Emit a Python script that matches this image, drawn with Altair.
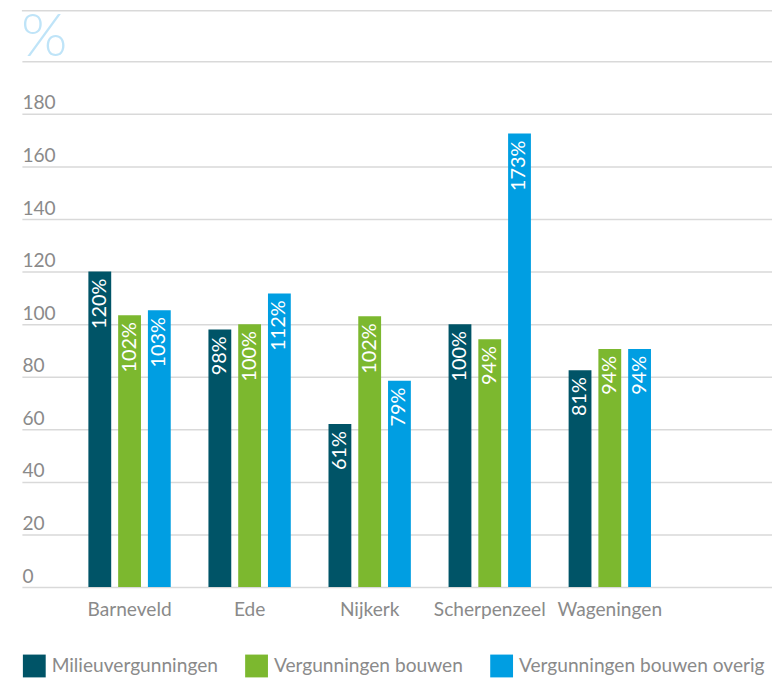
import altair as alt
import pandas as pd

gemeenten = ["Barneveld", "Ede", "Nijkerk", "Scherpenzeel", "Wageningen"]
series = ["Milieuvergunningen", "Vergunningen bouwen", "Vergunningen bouwen overig"]
colors = ["#005467", "#7cb82f", "#009ee2"]

# bar heights as drawn (percent)
milieu = [120, 98, 62, 100, 82.5]
bouwen = [103.4, 100, 103, 94.3, 90.6]
overig = [105.3, 111.7, 78.5, 172.5, 90.6]
# printed labels
milieu_lbl = ["120%", "98%", "61%", "100%", "81%"]
bouwen_lbl = ["102%", "100%", "102%", "94%", "94%"]
overig_lbl = ["103%", "112%", "79%", "173%", "94%"]

y_ticks = [0, 20, 40, 60, 80, 100, 120, 140, 160, 180, 200]

rows = []
for s, vals, lbls in zip(series, [milieu, bouwen, overig], [milieu_lbl, bouwen_lbl, overig_lbl]):
    for g, v, l in zip(gemeenten, vals, lbls):
        rows.append({"gemeente": g, "reeks": s, "waarde": v, "label": l})
df = pd.DataFrame(rows)

W, H = 756, 581
FONT = "Lato"
GRAY = "#8a8a8a"
FS = 19.3

x_enc = alt.X("gemeente:N", sort=gemeenten,
              scale=alt.Scale(paddingInner=0.2562, paddingOuter=0.752, align=0.349, round=False),
              axis=alt.Axis(title=None, ticks=False, domain=False, labelAngle=0,
                            labelFont=FONT, labelFontSize=FS, labelColor=GRAY,
                            labelPadding=14))
xo_enc = alt.XOffset("reeks:N", sort=series,
                     scale=alt.Scale(paddingInner=0.2333, paddingOuter=0.1167))
y_enc = alt.Y("waarde:Q",
              scale=alt.Scale(domain=[0, 219.25], nice=False, zero=True),
              axis=alt.Axis(title=None, values=y_ticks, ticks=False, tickSize=0, domain=False,
                            grid=True, gridColor="#d9d9d9", gridWidth=1.5,
                            labelAlign="left", labelPadding=0, labelBaseline="alphabetic",
                            labelOffset=-5, labelFont=FONT, labelFontSize=FS,
                            labelColor=GRAY,
                            labelExpr="datum.value >= 200 ? '' : datum.label"))

base = alt.Chart(df)

bars = base.mark_bar().encode(
    x=x_enc, xOffset=xo_enc, y=y_enc,
    color=alt.Color("reeks:N", sort=series,
                    scale=alt.Scale(domain=series, range=colors),
                    legend=alt.Legend(title=None, orient="none", direction="horizontal",
                                      legendX=1, legendY=649, padding=0,
                                      symbolType="square", symbolSize=529,
                                      symbolStrokeWidth=0, symbolOpacity=1,
                                      labelFont=FONT, labelFontSize=FS, labelColor=GRAY,
                                      labelOffset=6, columnPadding=27,
                                      labelLimit=400)),
)

labels = base.mark_text(angle=270, align="right", baseline="middle", dx=-7,
                        color="white", font=FONT, fontSize=20).encode(
    x=alt.X("gemeente:N", sort=gemeenten), xOffset=alt.XOffset("reeks:N", sort=series),
    y=alt.Y("waarde:Q"), text="label:N",
)

top_rule = alt.Chart(pd.DataFrame({"a": [0]})).mark_rule(color="#d9d9d9", strokeWidth=1.5).encode(
    x=alt.value(0), x2=alt.value(W), y=alt.value(0)
)

pct = alt.Chart(pd.DataFrame({"t": ["%"]})).mark_text(
    align="left", baseline="top", font=FONT, fontSize=60, fontWeight=300,
    color="#bfe4f8").encode(x=alt.value(-1), y=alt.value(-1), text="t:N")

chart = alt.layer(top_rule, bars, labels, pct).properties(
    width=W, height=H,
    autosize=alt.AutoSizeParams(type="none"),
    padding={"left": 14, "top": 0, "right": 0, "bottom": 95},
).configure_view(stroke=None)

chart.save("out.html", embed_options={"renderer": "svg", "actions": False})
